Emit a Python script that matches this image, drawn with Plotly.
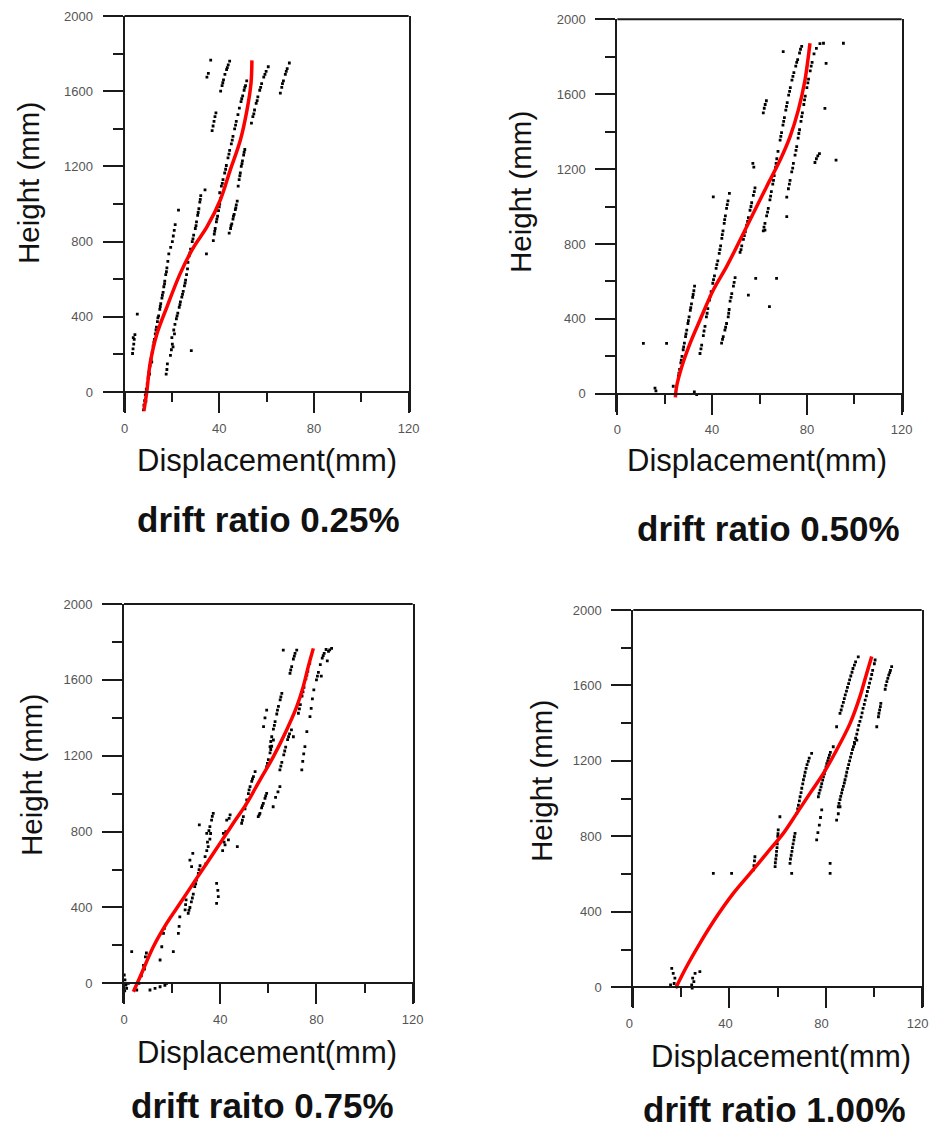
import plotly.graph_objects as go

W, H = 931, 1131

# ---------------- data ----------------
TICK_X = [0, 40, 80, 120]
TICK_Y = [0, 400, 800, 1200, 1600, 2000]

CAPTIONS = ["drift ratio 0.25%", "drift ratio 0.50%", "drift raito 0.75%", "drift ratio 1.00%"]
X_TITLE = "Displacement(mm)"
Y_TITLE = "Height (mm)"

# measured points (displacement mm, height mm)
P1_DOTS = [
    (3.4,205),(3.6,230),(3.9,255),(4.1,280),(4.4,305),(3.7,290),(5.4,415),
    (8.0,-95),(8.2,-70),(8.5,-45),(8.8,-15),(9.2,15),(9.6,45),(10.0,75),(10.3,105),(10.8,140),(11.2,175),
    (11.7,210),(12.1,245),(12.6,280),(13.0,310),(13.5,345),(13.9,375),(14.4,405),(14.9,440),(15.3,470),
    (15.8,500),(16.3,530),(16.6,560),(17.0,590),(17.4,625),(17.9,660),(18.3,695),(18.7,735),(19.5,770),
    (20.2,800),(20.6,830),(21.0,860),(21.4,890),(22.8,968),
    (17.6,95),(17.9,120),(18.1,150),(19.4,195),(19.8,225),(20.2,255),(20.0,290),(20.8,330),(21.3,360),
    (21.9,390),(22.5,420),(23.1,450),(23.6,480),(24.2,505),(24.8,535),(25.3,565),(25.8,595),(26.2,625),
    (26.6,655),(28.2,220),
    (26.8,690),(27.3,725),(27.9,760),(28.6,800),(29.2,835),(29.9,870),(30.4,905),(30.9,940),(31.4,975),
    (31.8,1010),(32.2,1045),(34.0,1075),(34.6,735),
    (37.5,805),(37.9,840),(38.3,870),(38.8,905),(39.3,935),(39.7,965),(40.2,1000),(40.6,1030),
    (44.2,845),(44.8,870),(45.3,895),(45.8,920),(46.3,945),(46.8,970),(47.2,995),(47.6,1015),
    (40.2,1060),(40.9,1095),(41.6,1130),(42.3,1165),(43.0,1205),(43.7,1245),(44.4,1285),(45.1,1320),
    (45.8,1360),(46.5,1400),(47.2,1440),(47.9,1475),
    (48.0,1095),(48.4,1130),(48.9,1165),(49.3,1200),(49.8,1230),(50.3,1260),(50.8,1290),
    (37.0,1390),(37.4,1415),(37.8,1440),(38.2,1465),(38.6,1485),
    (48.5,1510),(49.2,1545),(49.9,1575),(50.5,1605),(51.1,1630),(51.6,1655),
    (40.6,1600),(41.2,1630),(41.8,1660),(42.4,1690),(43.1,1715),(43.8,1740),(44.4,1760),
    (34.8,1675),(35.4,1695),(36.4,1765),
    (53.6,1430),(54.2,1465),(54.9,1500),(55.6,1535),(56.3,1570),(57.1,1605),(57.9,1640),(58.8,1675),
    (59.8,1705),(60.7,1730),
    (65.8,1590),(66.4,1620),(67.1,1655),(67.9,1690),(68.7,1720),(69.6,1750),
    (9.0,-50),(10.6,95),(11.5,160),(12.4,265),(13.3,330),(14.1,395),(15.1,455),(16.0,515),(16.9,575),
    (17.7,640),(20.5,240),(21.1,310),(22.2,405),(23.4,465),(24.5,520),(25.6,580),
    (27.6,740),(28.9,815),(30.2,885),(31.1,955),(32.0,1025),
    (38.1,855),(39.0,920),(40.0,985),(45.0,885),(46.0,935),(47.0,980),
    (41.3,1110),(42.7,1185),(44.1,1265),(45.5,1340),(46.9,1420),
    (48.7,1150),(49.6,1215),(50.5,1275),(49.5,1560),(50.8,1620),(41.5,1645),(43.4,1725),
    (54.6,1480),(56.0,1550),(57.5,1620),(59.3,1690),(66.7,1640),(68.3,1705),
]
P2_DOTS = [
    (11.0,269),(20.8,269),(15.9,30),(16.3,15),(23.6,40),(32.5,10),(33.5,-5),(40.5,1052),(55.3,527),
    (58.4,616),(67.2,616),(64.2,465),(71.5,946),(62.3,874),(70.0,1827),(87.6,1524),(92.3,1248),
    (95.4,1872),(88.1,1765),(87.0,1872),
    (25.4,60),(25.8,95),(26.3,130),(26.8,165),(27.3,200),(27.8,235),(28.3,270),(28.8,305),(29.3,340),
    (29.8,375),(30.3,410),(30.8,445),(31.3,480),(31.8,515),(32.3,550),(32.6,575),
    (34.9,215),(35.6,260),(36.3,310),(37.0,360),(37.6,410),(38.2,455),(38.9,500),(39.6,545),(40.3,590),
    (41.0,630),(41.7,670),(42.4,710),(43.0,750),(43.6,790),(44.1,830),(44.6,870),(45.1,910),(45.6,950),
    (46.1,990),(46.7,1030),(47.3,1070),
    (44.0,270),(44.7,305),(45.4,340),(46.1,375),(46.8,410),(47.2,450),(47.6,495),(48.3,535),(49.0,575),
    (49.7,620),
    (51.8,755),(52.5,790),(53.2,825),(54.0,865),(54.6,900),(55.3,940),(56.0,980),(56.7,1020),(57.4,1060),
    (58.1,1100),(57.2,1230),(57.6,1210),
    (61.6,1500),(62.0,1525),(62.4,1545),(62.9,1565),
    (61.6,870),(62.3,910),(63.0,950),(63.7,990),(64.4,1035),(65.0,1080),(65.6,1120),(66.2,1165),
    (66.8,1210),(67.3,1255),(67.8,1295),
    (71.5,1050),(72.2,1095),(72.9,1140),(73.6,1185),(74.3,1230),(75.0,1275),(75.7,1320),(76.3,1365),
    (76.9,1410),(77.5,1455),(78.1,1500),(78.7,1545),(79.3,1590),(80.0,1635),(80.7,1680),(81.4,1725),
    (82.2,1770),(83.0,1815),(84.0,1845),(85.5,1870),
    (68.7,1355),(69.3,1395),(69.9,1435),(70.5,1475),(71.1,1515),(71.7,1555),(72.3,1595),(73.0,1635),
    (73.7,1675),(74.5,1715),(75.3,1750),(76.1,1785),(76.9,1820),(77.8,1855),
    (83.4,1235),(84.0,1255),(84.6,1270),(85.3,1283),
    (26.0,110),(27.0,180),(28.0,250),(29.0,320),(30.0,390),(31.0,460),(32.0,530),
    (35.3,240),(36.6,335),(37.9,430),(39.2,520),(40.6,610),(42.0,690),(43.3,770),(44.3,850),(45.3,930),
    (46.4,1010),(44.4,290),(45.7,355),(47.0,430),(48.0,515),(49.3,595),
    (52.2,770),(53.6,845),(55.0,920),(56.4,1000),(57.8,1080),
    (61.9,890),(63.4,970),(64.7,1055),(65.9,1140),(67.0,1230),
    (72.6,1120),(74.0,1205),(75.4,1300),(76.6,1390),(77.8,1480),(79.0,1570),(80.4,1660),(81.8,1750),
    (69.0,1375),(70.2,1455),(71.4,1535),(72.7,1615),(74.1,1695),(75.7,1770),(77.3,1840),
]
P3_DOTS = [
    (0.1,44),(0.4,18),(0.8,-9),(1.1,-26),(1.8,0),(0.3,-40),(3.2,167),
    (5.3,-35),(6.2,0),(7.2,40),(8.1,95),(8.9,140),(9.3,160),(8.5,75),
    (10.8,-35),(12.9,-27),(15.0,-18),(17.0,-10),(17.7,0),
    (15.0,123),(16.4,264),(15.7,193),(20.5,167),(16.8,290),
    (22.6,264),(22.9,300),(23.2,351),(25.4,387),(25.6,415),(25.8,440),
    (26.7,369),(27.4,400),(28.0,430),(28.8,470),(29.4,510),(30.1,545),(30.9,580),(31.6,620),
    (27.4,650),(28.1,615),(28.6,685),(31.3,835),
    (33.7,668),(34.4,700),(34.4,791),(35.0,721),(35.7,760),(35.7,826),(36.4,861),(37.1,896),(36.0,790),
    (34.0,630),
    (38.5,527),(39.2,457),(38.5,422),(39.0,490),
    (41.3,791),(42.7,861),(44.1,888),(43.4,756),(42.0,730),(41.0,700),(47.1,721),
    (48.9,844),(49.6,879),(50.3,920),(51.0,967),(51.7,1000),(52.4,1037),(53.1,1065),(53.8,1090),(54.5,1116),
    (55.8,879),(56.5,896),(57.2,925),(57.9,949),(58.6,975),(59.3,1002),
    (59.3,1143),(60.0,1180),(60.7,1215),(61.4,1250),(62.1,1283),
    (58.0,1353),(58.6,1400),(59.3,1441),
    (60.7,1248),(61.4,1300),(62.1,1340),(62.8,1380),(63.5,1420),(64.2,1460),(64.9,1495),(65.6,1529),
    (62.0,931),(63.0,980),(64.0,1010),(64.8,1037),
    (64.8,1125),(65.6,1165),(66.4,1205),(67.2,1245),(68.0,1285),(68.8,1315),(69.6,1336),(70.4,1300),
    (66.2,1757),(69.0,1634),(69.7,1670),(70.4,1710),(71.1,1740),(71.8,1757),
    (73.9,1125),(74.3,1170),(74.7,1210),(75.2,1248),(76.0,1327),
    (72.5,1424),(73.3,1470),(74.0,1515),(74.8,1560),(75.6,1605),(76.4,1645),(77.2,1687),
    (77.3,1406),(77.8,1450),(78.3,1500),(78.9,1547),
    (80.0,1600),(80.8,1640),(81.6,1680),(82.4,1715),(83.2,1740),(84.0,1760),(85.0,1750),(86.3,1766),
    (82.0,1620),(84.5,1700),
    (27.0,385),(28.4,450),(29.8,525),(31.2,600),(34.7,745),(35.3,805),(36.7,880),
    (41.6,745),(42.3,800),(43.7,870),(49.2,860),(50.6,940),(52.0,1020),(53.4,1078),
    (56.2,888),(57.5,937),(58.9,988),(59.6,1160),(61.0,1233),
    (61.0,1275),(62.5,1360),(63.8,1440),(65.2,1510),(65.2,1145),(66.8,1225),(68.4,1300),
    (69.3,1652),(70.8,1725),(72.9,1447),(74.4,1537),(76.0,1625),(80.4,1620),(82.8,1728),(85.5,1758),
]
P4_DOTS = [
    (16.0,100),(16.6,74),(17.3,48),(15.5,12),(17.0,20),
    (24.3,12),(24.7,48),(25.7,74),(27.7,83),(24.5,-5),(25.2,30),
    (33.3,604),(40.9,604),
    (50.0,622),(50.2,645),(50.4,670),(50.6,692),
    (59.0,640),(59.3,680),(59.6,720),(59.9,760),(60.1,800),(60.3,834),(61.0,904),
    (65.2,657),(65.7,700),(66.2,740),(66.8,780),(67.3,816),(65.9,604),
    (68.0,922),(68.7,965),(69.4,1010),(70.1,1055),(70.8,1100),(71.5,1140),(72.3,1180),(73.2,1215),(74.2,1240),
    (76.3,781),(76.8,820),(77.4,860),(77.9,900),(78.4,940),
    (77.0,1010),(77.7,1045),(78.4,1080),(79.1,1115),(79.8,1150),(80.5,1185),(81.2,1215),(82.0,1245),(83.2,1275),
    (81.9,604),(81.9,657),
    (84.6,886),(85.3,920),(86.0,957),
    (85.3,957),(86.0,995),(86.7,1030),(87.4,1065),(88.1,1100),(88.8,1140),(89.6,1180),(90.4,1220),
    (91.2,1260),(92.1,1290),(93.0,1310),
    (84.6,1381),
    (86.0,1452),(86.9,1490),(87.8,1530),(88.7,1570),(89.6,1610),(90.5,1650),(91.4,1690),(92.5,1725),(93.6,1752),
    (91.6,1275),(92.5,1320),(93.4,1365),(94.3,1410),(95.2,1455),(96.1,1500),(97.0,1545),(97.9,1590),
    (98.8,1635),(99.6,1680),(100.3,1715),(100.6,1735),
    (101.3,1381),
    (102.0,1434),(102.5,1470),(103.0,1505),(104.8,1580),(105.5,1620),(106.3,1655),(107.0,1680),(107.5,1700),
    (59.1,660),(59.5,700),(59.8,740),(60.2,815),(65.4,680),(66.0,720),(66.5,760),(67.0,798),
    (68.4,945),(69.1,988),(69.8,1032),(70.5,1078),(71.2,1120),(71.9,1160),(72.8,1198),
    (77.3,1028),(78.1,1062),(78.8,1098),(79.5,1132),(80.2,1168),(80.9,1200),(81.6,1230),
    (85.6,975),(86.3,1012),(87.0,1048),(87.8,1083),(88.5,1120),(89.2,1160),(90.0,1200),(90.8,1240),
    (86.5,1470),(87.4,1510),(88.2,1550),(89.1,1590),(90.0,1630),(91.0,1670),(92.0,1708),
    (92.0,1298),(93.0,1342),(93.8,1388),(94.8,1432),(95.6,1478),(96.5,1522),(97.4,1568),(98.3,1612),
    (99.2,1658),(102.2,1452),(102.8,1488),(105.1,1600),(105.9,1638),(106.7,1668),
]

# fitted curves
P1_FIT_X = [8.2, 9.4, 10.8, 13.7, 17.9, 23.5, 29.2, 34.8, 40.4, 44.6, 48.9, 51.7, 53.4, 53.8]
P1_FIT_Y = [-100, 0, 150, 310, 452, 630, 771, 878, 1020, 1179, 1339, 1498, 1640, 1764]
P2_FIT_X = [24.5, 25.0, 27.2, 30.7, 34.9, 40.5, 46.1, 51.8, 57.4, 63.0, 68.7, 72.9, 76.4, 79.2, 80.6, 81.3]
P2_FIT_Y = [-20, 37, 144, 269, 394, 554, 679, 821, 964, 1106, 1248, 1373, 1516, 1676, 1800, 1872]
P3_FIT_X = [3.9, 6.7, 12.2, 17.7, 23.3, 28.8, 34.4, 39.9, 45.4, 51.0, 56.5, 62.1, 67.6, 71.8, 74.5, 76.6, 78.7]
P3_FIT_Y = [-44, 35, 193, 316, 422, 527, 633, 738, 844, 949, 1072, 1195, 1336, 1459, 1564, 1670, 1766]
P4_FIT_X = [17.6, 22.2, 27.7, 34.7, 41.6, 48.6, 55.5, 62.4, 68.0, 73.5, 79.1, 84.6, 90.2, 94.3, 97.1, 99.2]
P4_FIT_Y = [-5, 110, 233, 375, 498, 604, 710, 816, 922, 1028, 1134, 1258, 1399, 1541, 1664, 1753]

DOTS = [P1_DOTS, P2_DOTS, P3_DOTS, P4_DOTS]
FITS = [(P1_FIT_X, P1_FIT_Y), (P2_FIT_X, P2_FIT_Y), (P3_FIT_X, P3_FIT_Y), (P4_FIT_X, P4_FIT_Y)]
Y_MIN = [-106, -96, -102, -103]

# ---------------- layout geometry (pixels) ----------------
# left, right, top, bottom of the box; y of the zero line
GEOM = [
    (124.5, 408.7, 16.0, 412.0, 392.0),
    (617.3, 901.7, 19.3, 411.7, 393.7),
    (124.0, 412.7, 604.0, 1002.7, 983.3),
    (633.3, 921.7, 610.0, 1006.7, 987.3),
]
X_LABEL_SHIFT = [0, 0, 0, -4]
# (ytitle x,y), (xtitle x,y), (caption x,y)
TEXT_POS = [
    ((28, 183), (267, 460), (268, 519)),
    ((521, 192), (757, 461), (768, 528)),
    ((31, 775), (267, 1052), (262, 1105)),
    ((541, 781), (781, 1056), (774, 1109)),
]

FONT = "Liberation Sans, Arial, Helvetica, sans-serif"
AX = "#1a1a1a"
LW = 2
TICKFONT = dict(family=FONT, size=13, color="#555555")

fig = go.Figure()
layout = dict(
    width=W, height=H, autosize=False,
    margin=dict(l=0, r=0, t=0, b=0, autoexpand=False),
    paper_bgcolor="white", plot_bgcolor="white",
    showlegend=False, annotations=[], shapes=[],
)

for i in range(4):
    n = i + 1
    xa = "x" if n == 1 else f"x{n}"
    ya = "y" if n == 1 else f"y{n}"
    l, r, t, b, y0 = GEOM[i]
    dx = [p[0] for p in DOTS[i]]
    dy = [p[1] for p in DOTS[i]]
    fig.add_trace(go.Scatter(
        x=dx, y=dy, mode="markers", xaxis=xa, yaxis=ya,
        marker=dict(size=2.8, color="black", symbol="square", line=dict(width=0)),
        hoverinfo="skip",
    ))
    fx, fy = FITS[i]
    fig.add_trace(go.Scatter(
        x=fx, y=fy, mode="lines", xaxis=xa, yaxis=ya,
        line=dict(color="#ff0000", width=3.5, shape="spline", smoothing=1.0),
        hoverinfo="skip",
    ))
    layout["xaxis" if n == 1 else f"xaxis{n}"] = dict(
        domain=[l / W, r / W], range=[0, 120], anchor="free", position=1 - y0 / H,
        showline=True, linecolor=AX, linewidth=LW,
        ticks="outside", ticklen=20, tickwidth=LW, tickcolor=AX,
        tickmode="array", tickvals=TICK_X, ticktext=[str(v) for v in TICK_X],
        minor=dict(tickmode="array", tickvals=[20, 60, 100], ticks="outside",
                   ticklen=9, tickwidth=LW, tickcolor=AX, showgrid=False),
        tickfont=TICKFONT, ticklabelstandoff=4, ticklabelshift=X_LABEL_SHIFT[i],
        ticklabeloverflow="allow",
        showgrid=False, zeroline=False, fixedrange=True,
    )
    layout["yaxis" if n == 1 else f"yaxis{n}"] = dict(
        domain=[1 - b / H, 1 - t / H], range=[Y_MIN[i], 2000], anchor=xa,
        showline=True, mirror=True, linecolor=AX, linewidth=LW,
        ticks="outside", ticklen=20, tickwidth=LW, tickcolor=AX,
        tickmode="array", tickvals=TICK_Y, ticktext=[str(v) for v in TICK_Y],
        minor=dict(tickmode="array", tickvals=[200, 600, 1000, 1400, 1800], ticks="outside",
                   ticklen=10, tickwidth=LW, tickcolor=AX, showgrid=False),
        tickfont=TICKFONT, ticklabelstandoff=7,
        showgrid=False, zeroline=False, fixedrange=True,
    )
    # top border of the box
    layout["shapes"].append(dict(
        type="line", xref=f"{xa} domain", yref=f"{ya} domain",
        x0=0, x1=1, y0=1, y1=1, line=dict(color=AX, width=LW),
    ))
    (yt, xt, cp) = TEXT_POS[i]
    layout["annotations"].append(dict(
        text=Y_TITLE, x=yt[0] / W, y=1 - yt[1] / H, xref="paper", yref="paper",
        xanchor="center", yanchor="middle", textangle=-90, showarrow=False,
        font=dict(family=FONT, size=29.5, color="#111111"),
    ))
    layout["annotations"].append(dict(
        text=X_TITLE, x=xt[0] / W, y=1 - xt[1] / H, xref="paper", yref="paper",
        xanchor="center", yanchor="middle", showarrow=False,
        font=dict(family=FONT, size=31, color="#111111"),
    ))
    layout["annotations"].append(dict(
        text="<b>" + CAPTIONS[i] + "</b>", x=cp[0] / W, y=1 - cp[1] / H, xref="paper", yref="paper",
        xanchor="center", yanchor="middle", showarrow=False,
        font=dict(family=FONT, size=35, color="#111111"),
    ))

fig.update_layout(**layout)
fig.write_html(
    "out.html",
    config={"displayModeBar": False, "staticPlot": True},
    post_script="document.body.style.margin='0px';document.body.style.overflow='hidden';",
)
